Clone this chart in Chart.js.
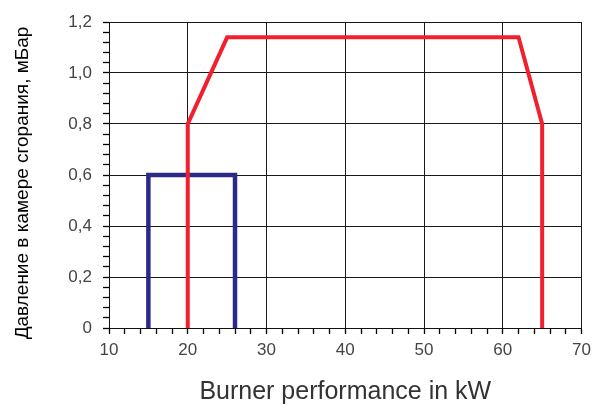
<!DOCTYPE html>
<html>
<head>
<meta charset="utf-8">
<script src="https://cdn.jsdelivr.net/npm/chart.js@4"></script>
<style>
  html, body { margin: 0; padding: 0; background: #ffffff; }
  #wrap { width: 597px; height: 409px; position: relative; }
</style>
</head>
<body>
<div id="wrap"><canvas id="c" width="597" height="409"></canvas></div>
<script>
// ---- data ----
const redX = [20, 20, 25, 62, 65, 65];
const redY = [0, 0.8, 1.14, 1.14, 0.8, 0];
const blueX = [15, 15, 26, 26];
const blueY = [0, 0.6, 0.6, 0];
const xMin = 10, xMax = 70, xMajor = 10, xMinor = 2;
const yMin = 0, yMax = 1.2, yMajor = 0.2, yMinor = 0.04;
const xTitle = 'Burner performance in kW';
const yTitle = 'Давление в камере сгорания, мБар';

const pts = (xs, ys) => xs.map((x, i) => ({ x: x, y: ys[i] }));
const isMajor = (v, step) => Math.abs(v / step - Math.round(v / step)) < 1e-6;

const yTitlePlugin = {
  id: 'yTitle',
  afterDraw(chart) {
    const ctx = chart.ctx;
    ctx.save();
    ctx.translate(23, 183);
    ctx.rotate(-Math.PI / 2);
    ctx.textAlign = 'center';
    ctx.textBaseline = 'middle';
    ctx.font = '19px "Liberation Sans", Arial, sans-serif';
    ctx.fillStyle = '#000000';
    ctx.fillText(yTitle, 0, 0);
    ctx.restore();
  }
};

new Chart(document.getElementById('c'), {
  type: 'scatter',
  data: {
    datasets: [
      { data: pts(redX, redY), showLine: true, borderColor: '#f0202e', borderWidth: 4,
        pointRadius: 0, fill: false, tension: 0, borderJoinStyle: 'miter' },
      { data: pts(blueX, blueY), showLine: true, borderColor: '#2b2a88', borderWidth: 4.5,
        pointRadius: 0, fill: false, tension: 0, borderJoinStyle: 'miter' }
    ]
  },
  options: {
    responsive: false,
    animation: false,
    layout: { padding: { left: 0, right: 14, top: 22, bottom: 0 } },
    plugins: { legend: { display: false }, tooltip: { enabled: false } },
    scales: {
      x: {
        type: 'linear', min: xMin, max: xMax,
        afterFit(s) { s.height = 81; },
        border: { color: '#111111', width: 1 },
        grid: {
          color: c => isMajor(c.tick.value, xMajor) ? '#1a1a1a' : 'rgba(0,0,0,0)',
          tickColor: '#000000', tickLength: 6, lineWidth: 1, tickWidth: 1.3
        },
        ticks: {
          stepSize: xMinor, autoSkip: false, maxRotation: 0, padding: 6,
          color: '#444444', font: { family: '"Liberation Sans", Arial, sans-serif', size: 17 },
          callback: v => isMajor(v, xMajor) ? String(Math.round(v)) : ''
        },
        title: {
          display: true, text: xTitle, color: '#333333',
          font: { family: '"Liberation Sans", Arial, sans-serif', size: 25 },
          padding: { top: 4, bottom: 2 }
        }
      },
      y: {
        type: 'linear', min: yMin, max: yMax,
        afterFit(s) { s.width = 109; },
        border: { color: '#111111', width: 1 },
        grid: {
          color: c => isMajor(c.tick.value, yMajor) ? '#1a1a1a' : 'rgba(0,0,0,0)',
          tickColor: '#000000', tickLength: 6, lineWidth: 1, tickWidth: 1.3
        },
        ticks: {
          stepSize: yMinor, autoSkip: false, padding: 11,
          color: '#444444', font: { family: '"Liberation Sans", Arial, sans-serif', size: 17 },
          callback: v => {
            if (!isMajor(v, yMajor)) return '';
            if (Math.abs(v) < 1e-9) return '0';
            return v.toFixed(1).replace('.', ',');
          }
        }
      }
    }
  },
  plugins: [yTitlePlugin]
});
</script>
</body>
</html>
